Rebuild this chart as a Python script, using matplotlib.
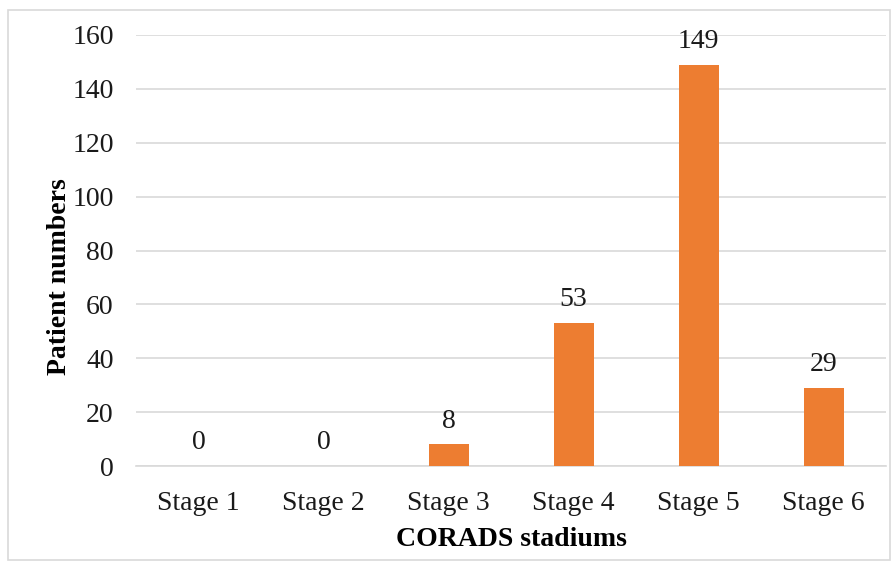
import numpy as np
import matplotlib.pyplot as plt
from matplotlib.patches import Rectangle

plt.rcParams['font.family'] = ['Liberation Serif', 'DejaVu Serif']

stages = ['Stage 1', 'Stage 2', 'Stage 3', 'Stage 4', 'Stage 5', 'Stage 6']
patients = [0, 0, 8, 53, 149, 29]

fig = plt.figure(figsize=(8.94, 5.67), dpi=100)
ax = fig.add_axes([136/894, 1 - 466/567, 750/894, 431/567])

x = np.arange(len(stages))
bars = ax.bar(x, patients, width=0.32, color='#ED7D31', zorder=3)

for xi, v in zip(x, patients):
    ax.text(xi, v + 4, str(v), ha='center', va='bottom', fontsize=20, color='#1a1a1a')

ax.set_xlim(-0.5, 5.5)
ax.set_ylim(0, 160)
ax.set_yticks(np.arange(0, 161, 20))
ax.set_xticks(x)
ax.set_xticklabels(stages)
ax.tick_params(axis='both', length=0, labelsize=20, colors='#1a1a1a')
ax.tick_params(axis='y', pad=16)
ax.tick_params(axis='x', pad=18)
ax.grid(axis='y', color='#D9D9D9', linewidth=1.2, zorder=0)

for s in ['left', 'right', 'top']:
    ax.spines[s].set_visible(False)
ax.spines['bottom'].set_color('#D9D9D9')
ax.spines['bottom'].set_linewidth(1.2)

ax.set_xlabel('CORADS stadiums', fontsize=20, fontweight='bold', labelpad=8)
ax.set_ylabel('Patient numbers', fontsize=20, fontweight='bold', labelpad=0)
ax.yaxis.label.set_y(0.44)  # label sits a bit below the axis centre

# outer chart border
fig.patches.append(Rectangle((8/894, 1 - 560/567), 882/894, 550/567,
                             transform=fig.transFigure, fill=False,
                             edgecolor='#D9D9D9', linewidth=1.2))

plt.savefig('out.png', dpi=100)
